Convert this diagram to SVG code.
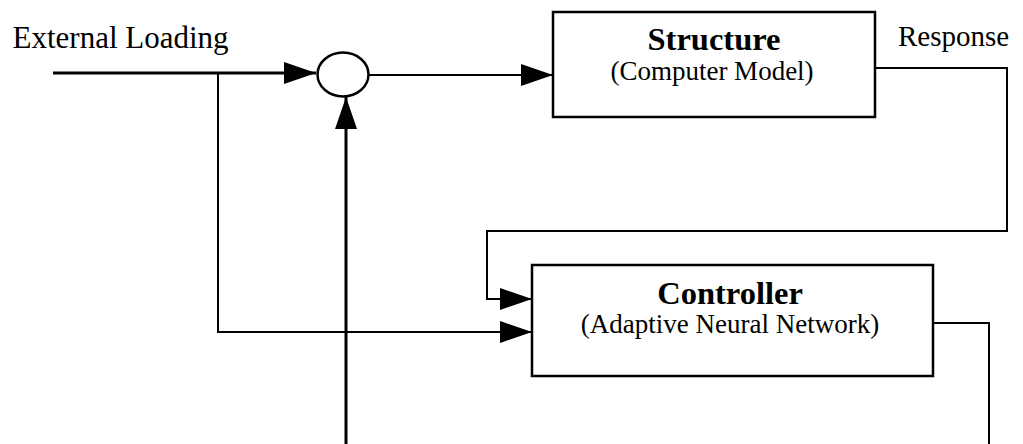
<svg xmlns="http://www.w3.org/2000/svg" width="1023" height="444" viewBox="0 0 1023 444">
  <style>
    .box { fill: #ffffff; stroke: #000000; stroke-width: 2.5; }
    .wire { fill: none; stroke: #000000; stroke-width: 2; stroke-linejoin: miter; }
    .thick { stroke-width: 3; }
    .label { font-family: "Liberation Serif", "Times New Roman", serif; fill: #000000; }
    .title { font-weight: bold; font-size: 32.5px; text-anchor: middle; }
    .sub { font-size: 27px; text-anchor: middle; }
  </style>
  <defs>
    <marker id="arrow" markerUnits="userSpaceOnUse" markerWidth="32" markerHeight="22" refX="32" refY="11" orient="auto" viewBox="0 0 32 22">
      <path d="M0,0 L32,11 L0,22 Z" fill="#000000"/>
    </marker>
  </defs>

  <rect width="1023" height="444" fill="#ffffff"/>

  <!-- signal paths -->
  <g id="connectors">
    <line class="wire thick" x1="53" y1="73" x2="316" y2="73" marker-end="url(#arrow)"/>
    <line class="wire" x1="368" y1="75" x2="553" y2="75" marker-end="url(#arrow)"/>
    <line class="wire thick" x1="346" y1="444" x2="346" y2="97" marker-end="url(#arrow)"/>
    <polyline class="wire" points="218,73 218,332 532,332" marker-end="url(#arrow)"/>
    <polyline class="wire" points="875,68 1007,68 1007,231 487,231 487,299 532,299" marker-end="url(#arrow)"/>
    <polyline class="wire" points="933,323 989,323 989,444"/>
  </g>

  <g id="summing-junction">
    <ellipse cx="343" cy="74.5" rx="25.5" ry="22" fill="#ffffff" stroke="#000000" stroke-width="2.5"/>
  </g>

  <g id="structure">
    <rect class="box" x="553" y="12" width="322" height="105"/>
    <text class="label title" x="714" y="50">Structure</text>
    <text class="label sub" x="712" y="80">(Computer Model)</text>
  </g>

  <g id="controller">
    <rect class="box" x="532" y="265" width="401" height="111"/>
    <text class="label title" x="730" y="304">Controller</text>
    <text class="label sub" x="730" y="333">(Adaptive Neural Network)</text>
  </g>

  <g id="external-loading">
    <text class="label" x="12.5" y="48" font-size="31">External Loading</text>
  </g>

  <g id="response">
    <text class="label" x="898" y="46" font-size="29">Response</text>
  </g>
</svg>
